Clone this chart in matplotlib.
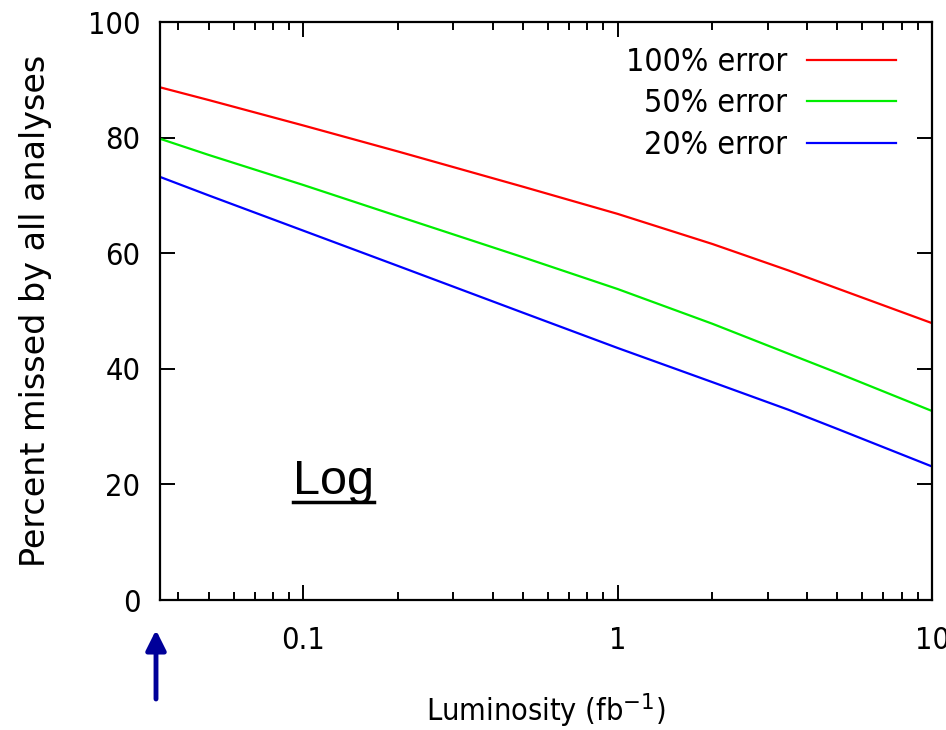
import numpy as np
import matplotlib
matplotlib.use("Agg")
import matplotlib.pyplot as plt
from matplotlib.ticker import LogLocator, FixedLocator, NullFormatter, FixedFormatter

# Data
lumi = [0.035, 0.05, 0.1, 0.2, 0.5, 1.0, 2.0, 3.5, 5.0, 10.0]
err100 = [88.7, 86.5, 82.1, 77.6, 71.5, 66.8, 61.6, 57.0, 53.9, 47.9]
err50 = [79.8, 77.0, 71.8, 66.4, 59.3, 53.8, 47.8, 42.6, 39.3, 32.7]
err20 = [73.2, 70.0, 63.9, 57.8, 49.7, 43.6, 37.7, 32.9, 29.6, 23.1]
series_labels = ["100% error", "50% error", "20% error"]
x_ticks = [0.1, 1, 10]
x_tick_labels = ["0.1", "1", "10"]
y_ticks = [0, 20, 40, 60, 80, 100]

fig = plt.figure(figsize=(9.46, 7.30), dpi=100)
ax = fig.add_axes([160/946, 130/730, (932-160)/946, (600-22)/730])

ax.plot(lumi, err100, color="#ff0000", lw=1.6, label=series_labels[0])
ax.plot(lumi, err50, color="#00ee00", lw=1.6, label=series_labels[1])
ax.plot(lumi, err20, color="#0000ff", lw=1.6, label=series_labels[2])

ax.set_xscale("log")
ax.set_xlim(0.035, 10)
ax.set_ylim(0, 100)
ax.xaxis.set_major_locator(FixedLocator(x_ticks))
ax.xaxis.set_major_formatter(FixedFormatter(x_tick_labels))
ax.xaxis.set_minor_locator(LogLocator(base=10, subs=np.arange(2, 10)))
ax.xaxis.set_minor_formatter(NullFormatter())
ax.set_yticks(y_ticks)

for s in ax.spines.values():
    s.set_linewidth(1.6)
ax.tick_params(which="both", direction="in", top=True, right=True, width=1.4)
ax.tick_params(which="major", length=11)
ax.tick_params(which="minor", length=6)
ax.tick_params(axis="x", which="major", pad=19)
ax.tick_params(axis="y", which="major", pad=14)
for lab in ax.get_xticklabels() + ax.get_yticklabels():
    lab.set_fontfamily("DejaVu Sans")
    lab.set_fontstretch("condensed")
    lab.set_fontsize(22)

ax.set_xlabel("Luminosity (fb$^{-1}$)", fontsize=22, labelpad=26,
              family="DejaVu Sans", stretch="condensed")
ax.set_ylabel("Percent missed by all analyses", fontsize=24, labelpad=26,
              family="DejaVu Sans")

leg = ax.legend(loc="upper right", frameon=False, markerfirst=False,
                prop=dict(family="DejaVu Sans", stretch="condensed", size=23),
                handlelength=2.78, handletextpad=0.63, labelspacing=0.33,
                borderpad=0.4, borderaxespad=0.0,
                bbox_to_anchor=(909/946, 1 - 34/730),
                bbox_transform=fig.transFigure)

# "Log" label with underline
ax.text(293/946, 1 - 481/730, "Log", transform=fig.transFigure,
        fontsize=35, family="Liberation Sans", ha="left", va="center")
fig.add_artist(plt.Line2D([293/946, 374/946], [1 - 502/730, 1 - 502/730],
                          transform=fig.transFigure, color="black", lw=2.5))

# blue arrow
ax.annotate("", xy=(156/946, 1 - 630/730), xytext=(156/946, 1 - 699/730),
            xycoords="figure fraction", textcoords="figure fraction",
            arrowprops=dict(arrowstyle="-|>,head_length=1.2,head_width=0.6",
                            color="#000099", lw=3.5, shrinkA=0, shrinkB=0))

fig.savefig("out.png", dpi=100)
